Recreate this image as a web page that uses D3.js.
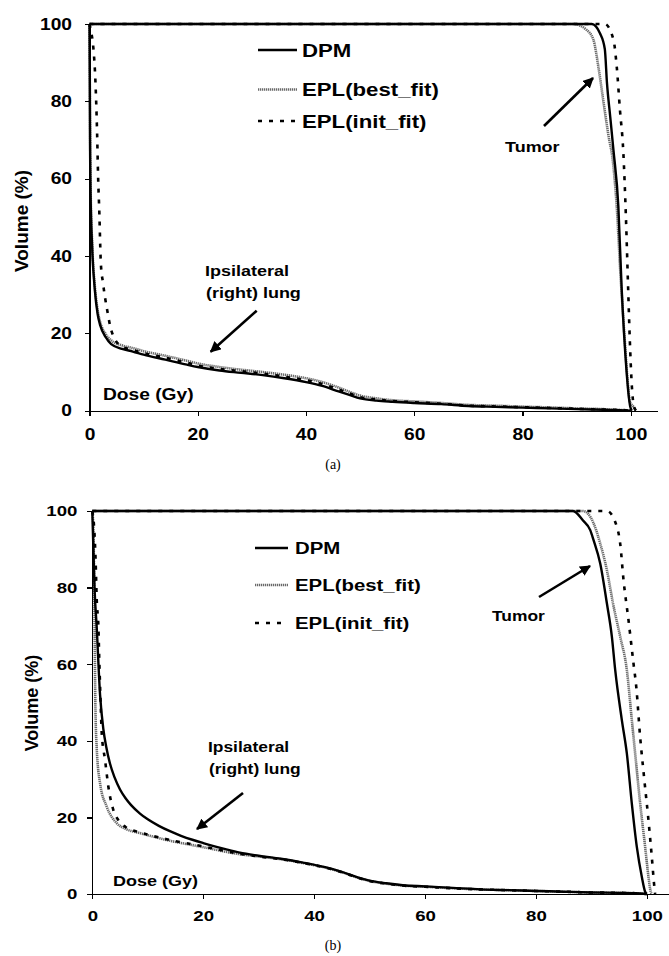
<!DOCTYPE html>
<html lang="en">
<head>
<meta charset="utf-8">
<title>DVH DPM vs EPL</title>
<script src="https://cdn.jsdelivr.net/npm/d3@7/dist/d3.min.js"></script>
<style>
body { margin: 0; background: #fff; }
svg text { font-family: "Liberation Sans", Arial, sans-serif; font-weight: bold; fill: #000; }
.axis path, .axis line { fill: none; stroke: #000; stroke-width: 1.2; shape-rendering: crispEdges; }
.caption { font-family: "Liberation Serif", "Times New Roman", serif !important; font-weight: normal !important; }
</style>
</head>
<body>
<script>
// tick labels
var xTicks = [0, 20, 40, 60, 80, 100];
var yTicks = [0, 20, 40, 60, 80, 100];
var seriesNames = ["DPM", "EPL(best_fit)", "EPL(init_fit)"];

// panel (a) – lung
var lungDpmA  = [[0,100],[0.05,88],[0.1,70],[0.2,56],[0.5,42],[1,31],[1.5,25],[2,22],[3,19],[4,17.2],[6,16],[8,15.3],[10,14.5],[14,13.2],[18,11.9],[20,11.3],[24,10.4],[28,9.8],[32,9.2],[36,8.4],[40,7.4],[43,6.4],[46,5],[48,4.1],[50,3.2],[53,2.6],[56,2.3],[60,2],[65,1.7],[70,1.2],[75,1],[80,0.8],[85,0.6],[90,0.4],[95,0.25],[98,0.15],[100,0]];
var lungBestA = [[0,100],[0.1,75],[0.2,58],[0.5,43],[1,32],[1.5,26],[2,22.8],[3,19.8],[4,18.2],[6,16.9],[8,16.2],[10,15.4],[14,14.2],[18,12.9],[20,12.2],[24,11.3],[28,10.6],[32,10],[36,9.3],[40,8.4],[43,7.4],[46,6],[48,4.9],[50,3.9],[53,3.2],[56,2.7],[60,2.4],[65,2],[70,1.5],[75,1.3],[80,1.05],[85,0.85],[90,0.6],[95,0.4],[98,0.2],[100,0]];
var lungInitA = [[0,100],[0.3,98],[0.7,94],[1.1,85],[1.4,72],[1.6,60],[1.8,52],[2.1,38],[2.5,33],[2.9,29],[3.4,25],[3.8,22],[4.7,18.5],[6,16.6],[8,15.7],[10,14.9],[14,13.7],[18,12.4],[20,11.7],[24,10.8],[28,10.2],[32,9.6],[36,8.8],[40,7.9],[43,6.9],[46,5.5],[48,4.5],[50,3.5],[53,2.9],[56,2.5],[60,2.2],[65,1.8],[70,1.3],[75,1.1],[80,0.9],[85,0.7],[90,0.5],[95,0.3],[98,0.2],[100,0]];
// panel (a) – tumor
var tumorDpmA  = [[0,100],[92.8,100],[94.3,97.6],[95.2,93.5],[95.6,84.7],[96.2,76],[96.8,67.3],[97.7,52.8],[98.3,32],[99.2,10.5],[99.6,4],[99.9,1],[100.2,0]];
var tumorBestA = [[0,100],[89.4,100],[91.8,98.5],[93.1,95.9],[94,89],[94.9,80.4],[95.8,71.8],[96.8,63.1],[97.4,52.8],[98.1,35],[98.8,20],[99.4,8],[99.8,2.5],[100.5,1],[100.9,0]];
var tumorInitA = [[0,100],[95.2,100],[96.8,95.9],[97.4,89],[98,77.7],[98.6,67.3],[99.1,50],[99.5,32],[99.8,19],[100.2,6.2],[100.6,1],[101,0]];

// panel (b) – lung
var lungDpmB  = [[0,100],[0.2,90],[0.4,80],[0.8,69.5],[1.4,52],[2,43],[2.5,38.5],[3.2,34],[4,30.5],[5,27.3],[6,25],[7,23.2],[8.6,21],[10,19.5],[12,17.8],[14,16.4],[16,15.2],[18.2,14.1],[20,13.3],[22.4,12.3],[24,11.7],[26.6,10.8],[30,10],[34,9.2],[38,8.2],[42,7],[45,5.8],[48,4.3],[50,3.5],[53,2.8],[56,2.3],[60,2],[65,1.6],[70,1.2],[75,1],[80,0.8],[85,0.6],[90,0.4],[95,0.3],[98,0.2],[100,0]];
var lungBestB = [[0,100],[0.2,95],[0.35,80],[0.45,65],[0.55,50],[0.8,38],[1.4,28.9],[2.6,22.8],[4.4,18.5],[6,17],[8.6,15.9],[13.4,14.1],[19.4,12.4],[26.6,10.4],[30,9.8],[34,9.1],[38,8.1],[42,6.9],[45,5.7],[48,4.2],[50,3.4],[53,2.7],[56,2.2],[60,1.9],[65,1.5],[70,1.2],[75,1],[80,0.8],[85,0.6],[90,0.4],[95,0.3],[98,0.2],[100,0]];
var lungInitB = [[0,100],[0.36,95],[0.6,87],[0.8,76.8],[1.1,69.8],[1.26,61],[1.5,50],[1.7,42],[2.3,35],[2.9,28],[3.8,21.9],[4.7,19.3],[6,17.5],[8.6,16.1],[13.4,14.3],[19.4,12.6],[26.6,10.5],[30,9.8],[34,9.1],[38,8.1],[42,6.9],[45,5.7],[48,4.2],[50,3.4],[53,2.7],[56,2.2],[60,1.9],[65,1.5],[70,1.2],[75,1],[80,0.8],[85,0.6],[90,0.4],[95,0.3],[98,0.2],[100,0]];
// panel (b) – tumor
var tumorDpmB  = [[0,100],[86.7,100],[88.5,97.5],[89.8,95],[90.4,92.4],[91.6,86.3],[92.8,75.9],[93.7,67.2],[94.3,58.5],[95.5,45.4],[96.4,36.7],[97.3,23.6],[98.2,12.3],[99.1,4.5],[99.7,0.6],[100,0]];
var tumorBestB = [[0,100],[88.5,100],[90.4,96.8],[91.6,91.5],[92.8,84.6],[93.9,75.9],[95.2,67.2],[96.4,58.5],[97.3,45.4],[97.9,36.7],[98.8,23.7],[99.7,12.3],[100.3,4.5],[100.7,0.6],[100.9,0]];
var tumorInitB = [[0,100],[92.8,100],[94.6,95.9],[95.2,91.5],[95.8,82],[96.7,71.5],[97.6,60.2],[98.1,54.1],[98.8,41],[99.5,30.6],[100.3,19.3],[100.9,9.7],[101.3,2.8],[101.5,0]];

var w = 669, h = 956;
var sx = 1.2; // text in the original is horizontally stretched

var styles = [
  { stroke: "#000", width: 2.4, dash: null },
  { stroke: "#6a6a6a", width: 2.6, dash: "1.3,0.7" },
  { stroke: "#000", width: 2.6, dash: "4,7" }
];

var svg = d3.select("body").append("svg")
    .attr("width", w)
    .attr("height", h);

var defs = svg.append("defs");
defs.append("marker")
    .attr("id", "arrow")
    .attr("viewBox", "0 0 10 10")
    .attr("refX", 9).attr("refY", 5)
    .attr("markerWidth", 4.2).attr("markerHeight", 4.2)
    .attr("orient", "auto")
  .append("path")
    .attr("d", "M0,0L10,5L0,10z")
    .attr("fill", "#000");

function label(x, y, str, size, anchor) {
  return svg.append("text")
      .attr("transform", "translate(" + x + "," + y + ") scale(" + sx + ",1)")
      .attr("text-anchor", anchor || "start")
      .style("font-size", size + "px")
      .text(str);
}

function arrow(x1, y1, x2, y2) {
  svg.append("line")
      .attr("x1", x1).attr("y1", y1).attr("x2", x2).attr("y2", y2)
      .attr("stroke", "#000").attr("stroke-width", 2.6)
      .attr("marker-end", "url(#arrow)");
}

function drawPanel(p) {
  var xScale = d3.scaleLinear().domain([0, 105]).range([p.x0, p.x0 + 105 * p.kx]);
  var yScale = d3.scaleLinear().domain([0, 100]).range([p.y0, p.y100]);

  var line = d3.line()
      .x(function(d) { return xScale(d[0]); })
      .y(function(d) { return yScale(d[1]); })
      .curve(d3.curveMonotoneX);

  var g = svg.append("g");
  // best_fit first, then init_fit, DPM on top
  [1, 2, 0].forEach(function(i) {
    [p.lung[i], p.tumor[i]].forEach(function(data) {
      g.append("path")
          .datum(data)
          .attr("d", line)
          .attr("fill", "none")
          .attr("stroke", styles[i].stroke)
          .attr("stroke-width", styles[i].width)
          .attr("stroke-dasharray", styles[i].dash)
          .attr("stroke-linejoin", "round");
    });
  });

  var xAxis = d3.axisBottom(xScale).tickValues(xTicks).tickSize(5).tickSizeOuter(0).tickPadding(p.padX);
  var yAxis = d3.axisLeft(yScale).tickValues(yTicks).tickSize(5).tickSizeOuter(0).tickPadding(p.padY);

  var gx = svg.append("g")
      .attr("class", "axis")
      .attr("transform", "translate(0," + p.y0 + ")")
      .call(xAxis);
  gx.selectAll("text")
      .style("font-size", p.tick + "px")
      .attr("transform", "scale(" + sx + ",1)");

  var gy = svg.append("g")
      .attr("class", "axis")
      .attr("transform", "translate(" + p.x0 + ",0)")
      .call(yAxis);
  gy.selectAll("text")
      .style("font-size", p.tick + "px")
      .attr("x", -(5 + p.padY) / sx)
      .attr("transform", "scale(" + sx + ",1)");

  svg.append("text")
      .attr("transform", "translate(" + p.titleX + "," + p.titleY + ") rotate(-90)")
      .attr("text-anchor", "middle")
      .style("font-size", p.titleSize + "px")
      .text("Volume (%)");

  label(p.doseX, p.doseY, "Dose (Gy)", p.doseSize);

  // legend
  p.legY.forEach(function(ly, i) {
    svg.append("line")
        .attr("x1", p.legX1).attr("x2", p.legX2)
        .attr("y1", ly).attr("y2", ly)
        .attr("stroke", styles[i].stroke)
        .attr("stroke-width", styles[i].width)
        .attr("stroke-dasharray", styles[i].dash);
    label(p.legText, ly + p.legSize * 0.36, seriesNames[i], p.legSize);
  });

  // annotations
  label(p.tumorX, p.tumorY, "Tumor", p.noteSize);
  arrow(p.tumorArrow[0], p.tumorArrow[1], p.tumorArrow[2], p.tumorArrow[3]);
  label(p.lungX, p.lungY, "Ipsilateral", p.noteSize);
  label(p.lungX + 1, p.lungY + p.noteSize * 1.5, "(right) lung", p.noteSize);
  arrow(p.lungArrow[0], p.lungArrow[1], p.lungArrow[2], p.lungArrow[3]);

  svg.append("text")
      .attr("class", "caption")
      .attr("x", 333).attr("y", p.capY)
      .attr("text-anchor", "middle")
      .style("font-size", "14px")
      .text(p.caption);
}

drawPanel({
  x0: 89.5, kx: 5.413, y0: 410.7, y100: 24,
  lung: [lungDpmA, lungBestA, lungInitA], tumor: [tumorDpmA, tumorBestA, tumorInitA],
  padX: 13, padY: 12.5, tick: 16,
  titleX: 28, titleY: 221, titleSize: 19,
  doseX: 103, doseY: 400, doseSize: 16,
  legX1: 258, legX2: 297, legText: 302, legY: [50, 89.5, 121], legSize: 18.5,
  tumorX: 505, tumorY: 151.5, tumorArrow: [544, 126, 593, 78],
  lungX: 205, lungY: 275.5, lungArrow: [256.7, 310.7, 210.7, 351.7],
  noteSize: 15, capY: 469, caption: "(a)"
});

drawPanel({
  x0: 92.3, kx: 5.545, y0: 894, y100: 511,
  lung: [lungDpmB, lungBestB, lungInitB], tumor: [tumorDpmB, tumorBestB, tumorInitB],
  padX: 11, padY: 10, tick: 15.5,
  titleX: 38, titleY: 703, titleSize: 18,
  doseX: 113, doseY: 886, doseSize: 15,
  legX1: 255, legX2: 288, legText: 295, legY: [548, 585, 623], legSize: 17,
  tumorX: 492, tumorY: 620.5, tumorArrow: [539, 597, 590, 566],
  lungX: 208, lungY: 752, lungArrow: [243, 793, 197, 829],
  noteSize: 14.5, capY: 950, caption: "(b)"
});
</script>
</body>
</html>
